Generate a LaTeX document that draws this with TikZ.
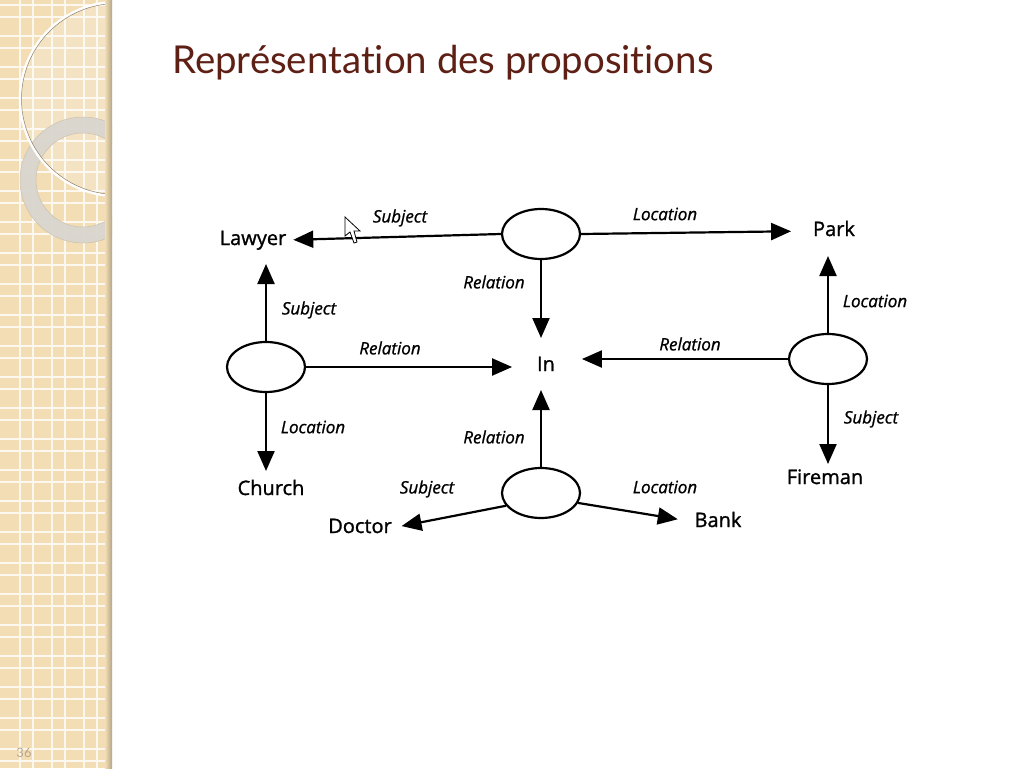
\documentclass[tikz,border=0pt]{standalone}
\usepackage{fontspec}
\setmainfont{Open Sans}
\newfontfamily\titlefont[Ligatures=NoCommon]{Lato}
\newfontfamily\termfont[FakeBold=1.2]{Open Sans}
\newfontfamily\labfont[ItalicFeatures={FakeBold=1.0}]{Open Sans}
\usetikzlibrary{arrows.meta,shapes.geometric}
\definecolor{titlered}{HTML}{5E1F14}
\definecolor{beige}{HTML}{F2DDB4}
\definecolor{ringgray}{HTML}{D9D6CF}
\definecolor{numgray}{HTML}{B8A78C}
\tikzset{
  prop/.style={ellipse, draw=black, line width=2.2pt, minimum width=78pt, minimum height=50pt, inner sep=0pt, fill=white},
  term/.style={inner sep=0pt, outer sep=0pt, text height=14pt, text depth=4pt, font=\fontsize{20}{24}\selectfont\termfont},
  lab/.style={inner sep=0pt, font=\fontsize{17}{20}\selectfont\labfont\itshape},
  arr/.style={line width=2.2pt, -{Triangle[length=20pt,width=17pt]}},
}
\begin{document}
\begin{tikzpicture}[x=1pt,y=-1pt]
\useasboundingbox (0,0) rectangle (1024,768);
\fill[white] (0,0) rectangle (1024,768);
% left decorative strip
\begin{scope}
\clip (0,0) rectangle (112,768);
\fill[beige] (0,0) rectangle (112,768);
\foreach \k in {0,...,24} {
  \draw[white!80!beige, line width=1.1pt] ({20+32*\k},0) -- ({20+32*\k},768);
  \draw[white!80!beige, line width=1.1pt] ({33+32*\k},0) -- ({33+32*\k},768);
  \draw[white!80!beige, line width=1.1pt] (0,{5+31*\k}) -- (112,{5+31*\k});
  \draw[white!80!beige, line width=1.1pt] (0,{17+31*\k}) -- (112,{17+31*\k});
}
\fill[white, opacity=0.2] (117,99) circle[radius=97];
\draw[ringgray, opacity=0.95, line width=16pt] (83,180) circle[radius=55];
\draw[numgray!70!white, line width=0.5pt] (83,180) circle[radius=63];
\draw[numgray!70!white, line width=0.5pt] (83,180) circle[radius=47];
\draw[white, line width=2.5pt] (117,99) circle[radius=97];
\draw[numgray!80!black, line width=0.5pt] (117,99) circle[radius=95.5];
\shade[left color=beige, right color=beige!75!black] (105,0) rectangle (112,768);
\end{scope}
\node[anchor=base, text=numgray, font=\fontsize{13}{15}\selectfont\titlefont] (num) at (24,757) {36};
% title
\node[anchor=base west, inner sep=0pt, text=titlered, font=\fontsize{38.4}{44}\selectfont\titlefont] (title) at (172,73) {Représentation des propositions};
% propositions
\node[prop] (p1) at (541,234) {};
\node[prop] (p2) at (266,367) {};
\node[prop] (p3) at (828,359) {};
\node[prop] (p4) at (541,493) {};
% terms
\node[term] (lawyer) at (253,240) {Lawyer};
\node[term] (park) at (834,231) {Park};
\node[term] (in) at (546,366) {In};
\node[term] (church) at (271,490) {Church};
\node[term] (fireman) at (825,479) {Fireman};
\node[term] (doctor) at (360,528) {Doctor};
\node[term] (bank) at (718,522) {Bank};
% connectors
\draw[arr, shorten >=7pt] (p1.west) -- (lawyer.east);
\draw[arr, shorten >=22pt] (p1.east) -- (park.west);
\draw[arr, shorten >=19pt] (p1.south) -- (p1.south |- in.north);
\draw[arr, shorten >=15pt] (p2.north) -- (p2.north |- lawyer.south);
\draw[arr, shorten >=25pt] (p2.east) -- (p2.east -| in.west);
\draw[arr, shorten >=10pt] (p2.south) -- (p2.south |- church.north);
\draw[arr, shorten >=16pt] (p3.north) -- (p3.north |- park.south);
\draw[arr, shorten >=27pt] (p3.west) -- (p3.west -| in.east);
\draw[arr, shorten >=6pt] (p3.south) -- (p3.south |- fireman.north);
\draw[arr, shorten >=15pt] (p4.north) -- (p4.north |- in.south);
\draw[arr, shorten >=10pt] (p4.200) -- (doctor.east);
\draw[arr, shorten >=17pt] (p4.-15) -- (bank.west);
% labels
\node[lab] (l1) at (400,218) {Subject};
\node[lab] (l2) at (665,214) {Location};
\node[lab] (l3) at (494,282) {Relation};
\node[lab] (l4) at (309,310) {Subject};
\node[lab] (l5) at (390,348) {Relation};
\node[lab] (l6) at (313,427) {Location};
\node[lab] (l7) at (875,301) {Location};
\node[lab] (l8) at (690,344) {Relation};
\node[lab] (l9) at (871,419) {Subject};
\node[lab] (l10) at (494,437) {Relation};
\node[lab] (l11) at (427,489) {Subject};
\node[lab] (l12) at (665,487) {Location};
% mouse cursor
\draw[fill=white, line width=0.8pt, line join=miter] (345,217) -- (345,236) -- (350,232) -- (354,243) -- (357,242) -- (354,231) -- (360,231) -- cycle;
\end{tikzpicture}
\end{document}
